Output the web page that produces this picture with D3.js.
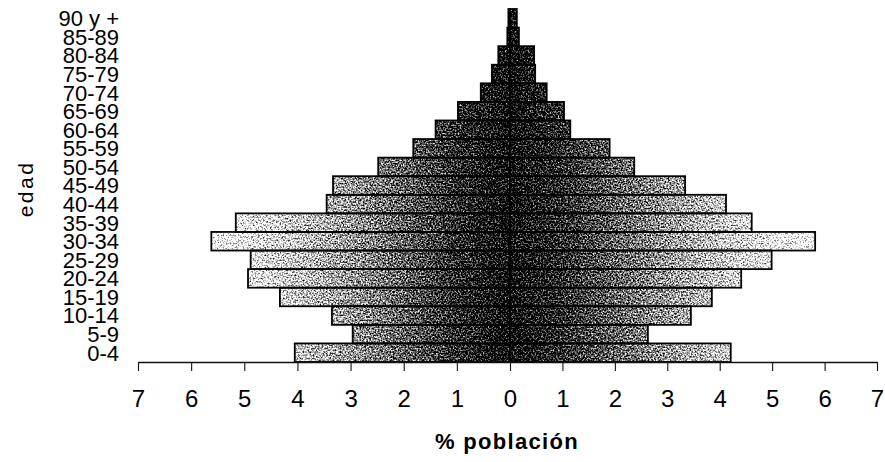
<!DOCTYPE html>
<html>
<head>
<meta charset="utf-8">
<script src="https://cdn.jsdelivr.net/npm/d3@7"></script>
<style>
  html, body { margin: 0; padding: 0; background: #fff; }
  svg { display: block; }
</style>
</head>
<body>
<svg id="chart" width="885" height="462"></svg>
<script>
// ---- data ----
const ageGroups = ["0-4","5-9","10-14","15-19","20-24","25-29","30-34","35-39","40-44","45-49",
                   "50-54","55-59","60-64","65-69","70-74","75-79","80-84","85-89","90 y +"];
const leftPct  = [4.05, 2.96, 3.35, 4.33, 4.93, 4.88, 5.62, 5.16, 3.45, 3.33,
                  2.48, 1.82, 1.40, 0.98, 0.55, 0.34, 0.22, 0.05, 0.03];
const rightPct = [4.21, 2.63, 3.45, 3.85, 4.41, 4.99, 5.82, 4.61, 4.12, 3.34,
                  2.37, 1.90, 1.15, 1.03, 0.70, 0.48, 0.46, 0.17, 0.13];
const xTicks = [-7,-6,-5,-4,-3,-2,-1,0,1,2,3,4,5,6,7];
const yTitle = "edad";
const xTitle = "% población";

// ---- layout ----
const svg = d3.select("#chart");
const x = d3.scaleLinear().domain([-7, 0, 7]).range([138, 510, 877]);
const y = d3.scaleBand().domain(ageGroups).range([362, 9]).padding(0);
const font = "'Liberation Sans', Arial, sans-serif";

// shading gradient (dark at centre, light toward the edges)
const shade = [
  {v:-6.2, g:0.92}, {v:-5, g:0.82}, {v:-4, g:0.70}, {v:-3, g:0.57}, {v:-2, g:0.42},
  {v:-1, g:0.26}, {v:0, g:0.14}, {v:1, g:0.26}, {v:2, g:0.42}, {v:3, g:0.57},
  {v:4, g:0.70}, {v:5, g:0.82}, {v:6.2, g:0.92}
];
const defs = svg.append("defs");
const grad = defs.append("linearGradient")
  .attr("id", "shade").attr("gradientUnits", "userSpaceOnUse")
  .attr("x1", x(-6.2)).attr("x2", x(6.2)).attr("y1", 0).attr("y2", 0);
const span = x(6.2) - x(-6.2);
shade.forEach(s => {
  const c = Math.round(s.g * 255);
  grad.append("stop").attr("offset", (x(s.v) - x(-6.2)) / span)
    .attr("stop-color", `rgb(${c},${c},${c})`);
});

// dithering filter (speckled scan look)
const f = defs.append("filter").attr("id", "dither")
  .attr("filterUnits", "userSpaceOnUse")
  .attr("x", 0).attr("y", 0).attr("width", 885).attr("height", 462)
  .attr("color-interpolation-filters", "sRGB");
f.append("feTurbulence").attr("type", "fractalNoise").attr("baseFrequency", 0.6)
  .attr("numOctaves", 2).attr("seed", 7).attr("result", "n");
f.append("feColorMatrix").attr("in", "n").attr("type", "matrix")
  .attr("values", "1 0 0 0 0  1 0 0 0 0  1 0 0 0 0  0 0 0 0 1").attr("result", "ng");
f.append("feComposite").attr("in", "SourceGraphic").attr("in2", "ng")
  .attr("operator", "arithmetic").attr("k1", 0).attr("k2", 1).attr("k3", 1.6).attr("k4", -0.8)
  .attr("result", "sum");
const ct = f.append("feComponentTransfer").attr("in", "sum").attr("result", "adj");
["feFuncR","feFuncG","feFuncB"].forEach(fn =>
  ct.append(fn).attr("type", "linear").attr("slope", 1.5).attr("intercept", -0.25));
f.append("feComposite").attr("in", "adj").attr("in2", "SourceAlpha").attr("operator", "in");

const rows = ageGroups.map((g, i) => ({g, l: leftPct[i], r: rightPct[i]}));

// filled bars
const fills = svg.append("g").attr("filter", "url(#dither)");
fills.selectAll("rect.l").data(rows).join("rect").attr("class", "l")
  .attr("x", d => x(-d.l)).attr("width", d => x(0) - x(-d.l))
  .attr("y", d => y(d.g)).attr("height", y.bandwidth())
  .attr("fill", "url(#shade)");
fills.selectAll("rect.r").data(rows).join("rect").attr("class", "r")
  .attr("x", x(0)).attr("width", d => x(d.r) - x(0))
  .attr("y", d => y(d.g)).attr("height", y.bandwidth())
  .attr("fill", "url(#shade)");

// outlines
const outl = svg.append("g").attr("fill", "none").attr("stroke", "#000").attr("stroke-width", 1.8);
outl.selectAll("rect.l").data(rows).join("rect").attr("class", "l")
  .attr("x", d => x(-d.l)).attr("width", d => x(0) - x(-d.l))
  .attr("y", d => y(d.g)).attr("height", y.bandwidth());
outl.selectAll("rect.r").data(rows).join("rect").attr("class", "r")
  .attr("x", x(0)).attr("width", d => x(d.r) - x(0))
  .attr("y", d => y(d.g)).attr("height", y.bandwidth());

// x axis
const xAxis = svg.append("g").attr("transform", "translate(0,362)")
  .call(d3.axisBottom(x).tickValues(xTicks).tickFormat(d => Math.abs(d))
        .tickSize(9).tickPadding(19).tickSizeOuter(0));
xAxis.select(".domain").attr("stroke", "#111").attr("stroke-width", 1.4);
xAxis.selectAll(".tick line").attr("stroke", "#111").attr("stroke-width", 1.1);
xAxis.selectAll(".tick text").attr("font-family", font).attr("font-size", 24).attr("fill", "#000");

// y axis (age labels)
const yAxis = svg.append("g").attr("transform", "translate(121,0)")
  .call(d3.axisLeft(y).tickSize(0).tickPadding(2));
yAxis.select(".domain").remove();
yAxis.selectAll(".tick text").attr("font-family", font).attr("font-size", 22)
  .attr("fill", "#000").attr("dy", "0.36em");

// titles
svg.append("text").attr("transform", "translate(33,189) rotate(-90)")
  .attr("text-anchor", "middle").attr("font-family", font).attr("font-size", 21)
  .attr("letter-spacing", 2.5).text(yTitle);
svg.append("text").attr("x", 507).attr("y", 449)
  .attr("text-anchor", "middle").attr("font-family", font).attr("font-size", 22)
  .attr("font-weight", "bold").attr("letter-spacing", 1.3).text(xTitle);
</script>
</body>
</html>
